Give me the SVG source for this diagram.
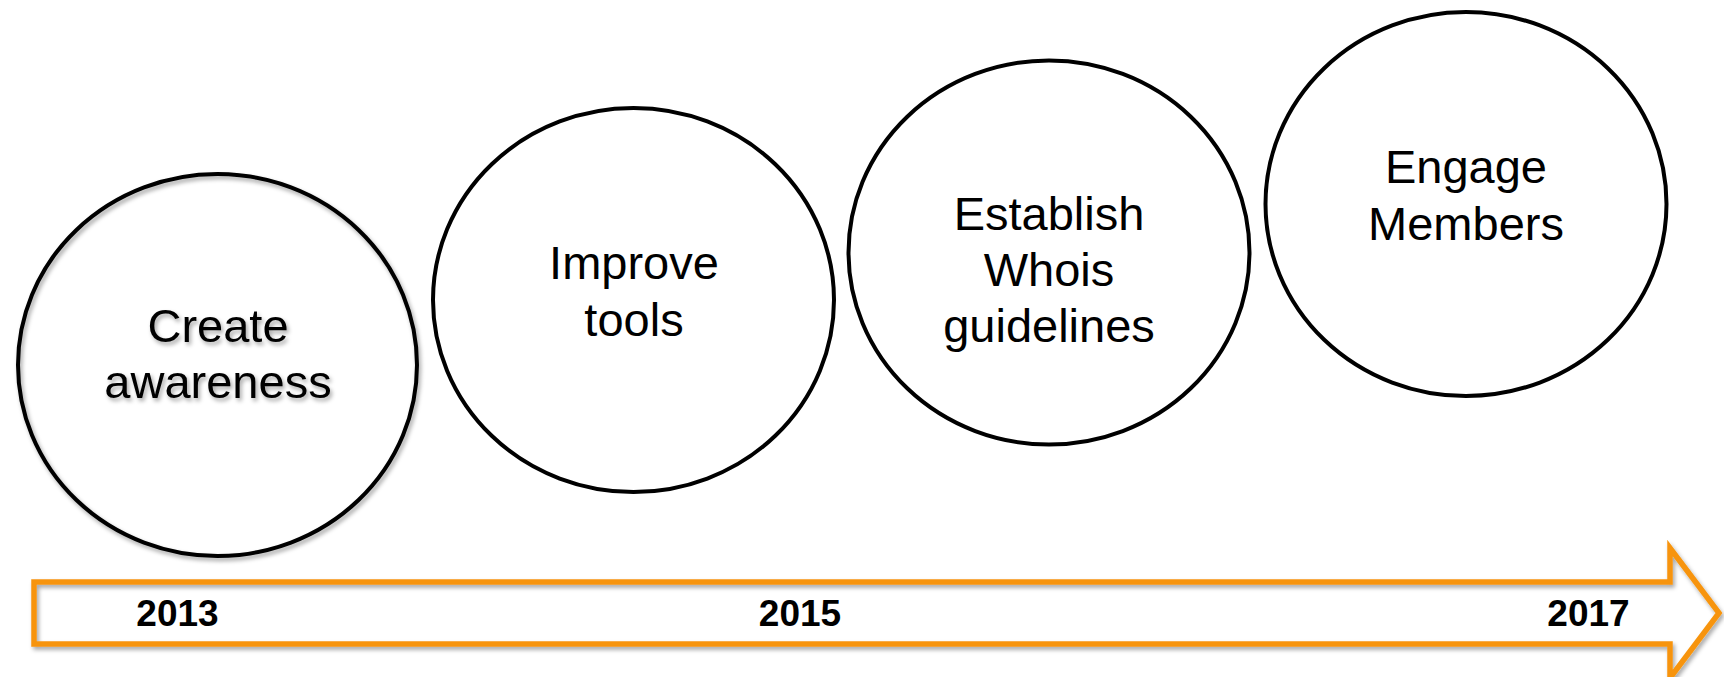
<svg xmlns="http://www.w3.org/2000/svg" width="1724" height="677" viewBox="0 0 1724 677">
  <defs>
    <filter id="shadow" x="-10%" y="-10%" width="125%" height="130%">
      <feDropShadow dx="2" dy="3" stdDeviation="2" flood-color="#000" flood-opacity="0.35"/>
    </filter>
  </defs>
  <style>
    .circle { fill: none; stroke: #000; stroke-width: 4; }
    .label { font-family: "Liberation Sans", Arial, sans-serif; font-size: 47px; fill: #000; text-anchor: middle; }
    .year { font-family: "Liberation Sans", Arial, sans-serif; font-size: 37px; font-weight: bold; fill: #000; text-anchor: middle; }
    .arrow { fill: none; stroke: #F7940A; stroke-width: 5.5; stroke-linejoin: miter; stroke-miterlimit: 10; }
  </style>
  <rect width="1724" height="677" fill="#fff"/>

  <g id="timeline">
    <path class="arrow" filter="url(#shadow)" d="M34,582 L1670,582 L1670,548 L1719,613 L1670,678 L1670,644 L34,644 Z"/>
    <text class="year" x="177.5" y="626">2013</text>
    <text class="year" x="800" y="626">2015</text>
    <text class="year" x="1588.5" y="626">2017</text>
  </g>

  <g id="node-create-awareness">
    <ellipse class="circle" filter="url(#shadow)" cx="217.5" cy="365" rx="199.5" ry="191"/>
    <text class="label" filter="url(#shadow)" x="218" y="342">Create</text>
    <text class="label" filter="url(#shadow)" x="218" y="398">awareness</text>
  </g>

  <g id="node-improve-tools">
    <ellipse class="circle" cx="633.5" cy="300" rx="200.5" ry="192"/>
    <text class="label" x="634" y="279">Improve</text>
    <text class="label" x="634" y="336">tools</text>
  </g>

  <g id="node-establish-whois">
    <ellipse class="circle" cx="1049" cy="252.5" rx="200.5" ry="192"/>
    <text class="label" x="1049" y="230">Establish</text>
    <text class="label" x="1049" y="286">Whois</text>
    <text class="label" x="1049" y="342">guidelines</text>
  </g>

  <g id="node-engage-members">
    <ellipse class="circle" cx="1466" cy="204" rx="200.5" ry="192"/>
    <text class="label" x="1466" y="183">Engage</text>
    <text class="label" x="1466" y="240">Members</text>
  </g>

  <g id="connectors"/>
</svg>
